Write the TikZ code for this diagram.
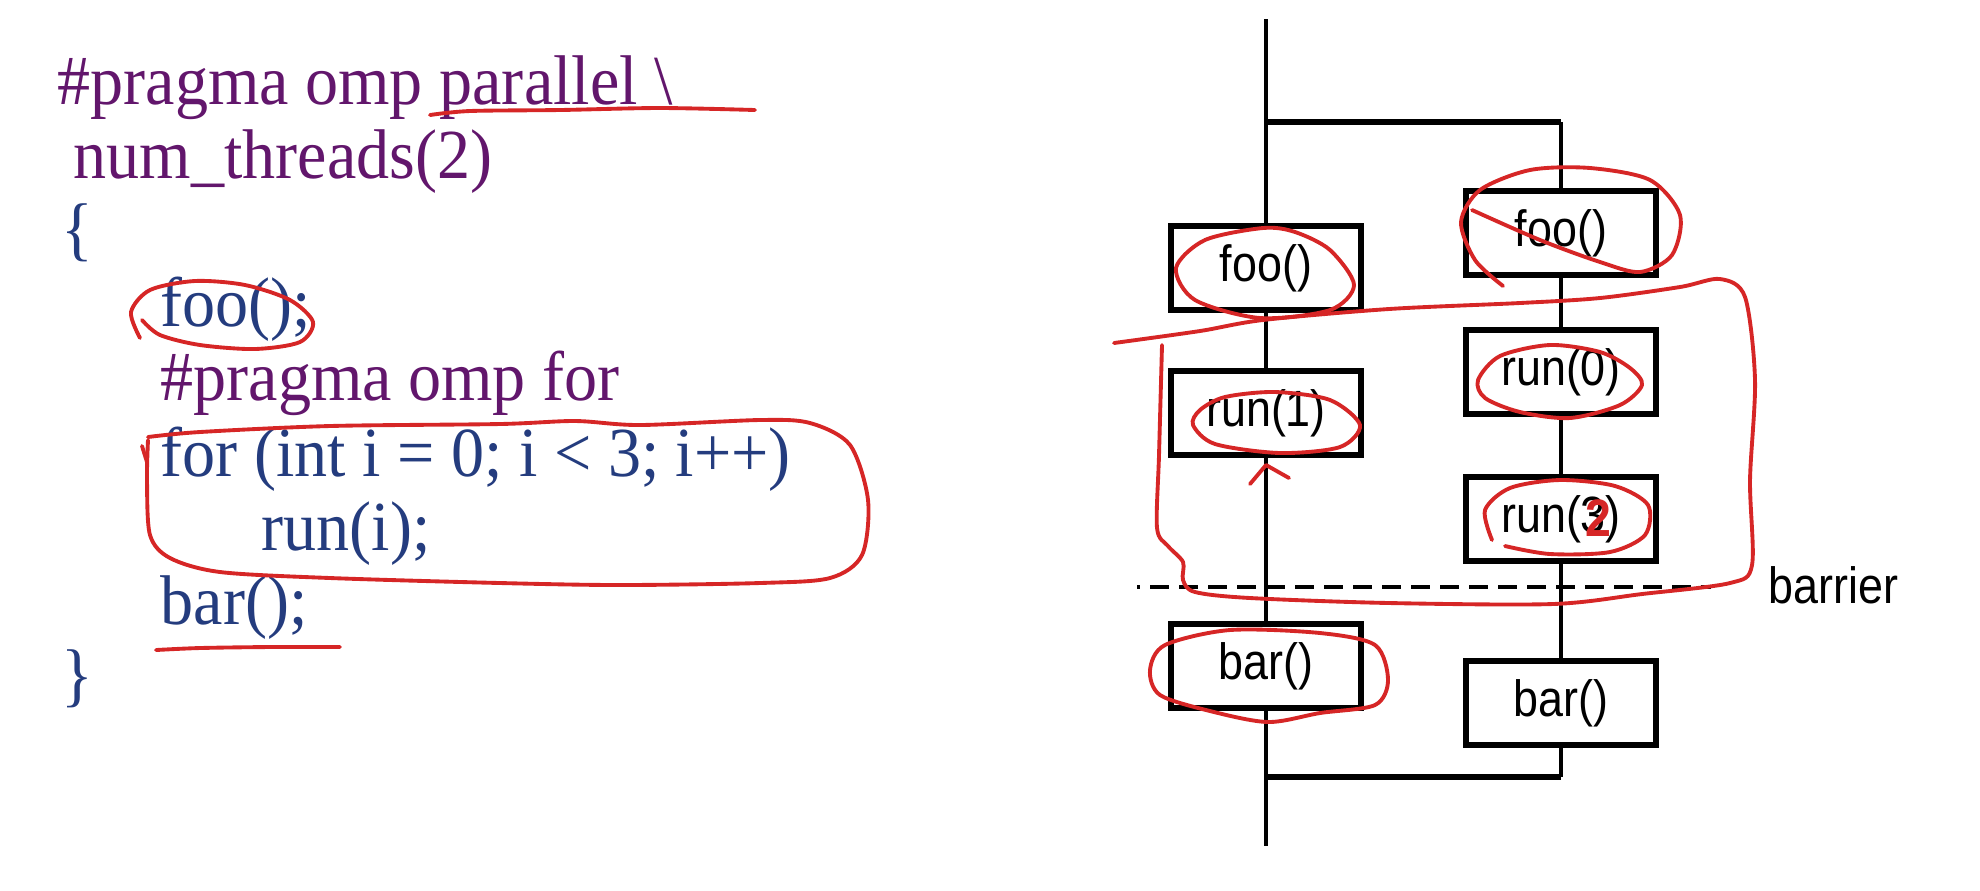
\documentclass[tikz,border=0pt]{standalone}
\usepackage{fontspec}
\setmainfont{Liberation Serif}[FakeStretch=0.94]
\newfontfamily\boxfont{Liberation Sans}[FakeStretch=0.88]
\usepackage{tikz}
\usetikzlibrary{positioning,calc}
\definecolor{CodePurple}{RGB}{98,22,108}
\definecolor{CodeBlue}{RGB}{36,60,126}
\definecolor{PenRed}{RGB}{214,38,38}
\tikzset{
    codeline/.style={anchor=base west, inner sep=0pt, font=\fontsize{20}{24}\selectfont},
    pragma/.style={codeline, text=CodePurple},
    stmt/.style={codeline, text=CodeBlue},
    taskbox/.style={draw=black, line width=1.7pt, fill=white, minimum width=1.9cm, minimum height=0.84cm, inner sep=0pt, font=\boxfont\fontsize{14.5}{17}\selectfont},
    thread/.style={draw=black, line width=1.1pt},
    forkbar/.style={draw=black, line width=1.8pt},
    pen/.style={draw=PenRed, line width=1.1pt, line cap=round, line join=round}
}

\begin{document}
\begin{tikzpicture}[x=0.01cm, y=-0.01cm,
        barrierline/.style={draw=black, line width=1.4pt, dash pattern=on 0.19cm off 0.1cm, dash phase=0.16cm}
    ]
    \useasboundingbox (0,0) rectangle (1980,890);

    % --- CODE ---
    \node[pragma] (pragmaPar) at (57,104) {\#pragma omp parallel \textbackslash};
    \node[pragma] (numThr) at (73,178) {num\_threads(2)};
    \node[stmt] (openBr) at (61,252) {\{};
    \node[stmt] (fooCall) at (160,326) {foo();};
    \node[pragma] (pragmaFor) at (160,400) {\#pragma omp for};
    \node[stmt] (forLoop) at (160,476) {for (int i = 0; i < 3; i++)};
    \node[stmt] (runCall) at (261,550) {run(i);};
    \node[stmt] (barCall) at (160,624) {bar();};
    \node[stmt] (closeBr) at (61,698) {\}};

    % --- THREADS ---
    % thread 0 (left)
    \node[taskbox] (fooL) at (1266,268) {foo()};
    \node[taskbox] (runOne) at (1266,413) {run(1)};
    \node[taskbox] (barL) at (1266,666) {bar()};
    % thread 1 (right)
    \node[taskbox] (fooR) at (1561,233) {foo()};
    \node[taskbox] (runZero) at (1561,372) {run(0)};
    \node[taskbox] (runTwo) at (1561,519) {run(3)};
    \node[taskbox] (barR) at (1561,703) {bar()};

    \coordinate (start) at (1266,19);
    \coordinate (forkL) at (1266,122);
    \coordinate (forkR) at (1561,122);
    \coordinate (joinL) at (1266,777);
    \coordinate (joinR) at (1561,777);
    \coordinate (finish) at (1266,846);

    \draw[thread] (start) -- (fooL);
    \draw[thread] (fooL) -- (runOne);
    \draw[thread] (runOne) -- (barL);
    \draw[thread] (barL) -- (finish);
    \draw[thread] (forkR) -- (fooR);
    \draw[thread] (fooR) -- (runZero);
    \draw[thread] (runZero) -- (runTwo);
    \draw[thread] (runTwo) -- (barR);
    \draw[thread] (barR) -- (joinR);
    \draw[forkbar] (forkL) -- (forkR);
    \draw[forkbar] (joinL) -- (joinR);

    % --- BARRIER ---
    \coordinate (barS) at (1137,587);
    \coordinate (barE) at (1711,587);
    \draw[barrierline] (barS) -- (barE);
    \node[anchor=west, inner sep=0pt, font=\boxfont\fontsize{14.5}{17}\selectfont] (barrierLbl) at (1768,585) {barrier};

    % --- RED PEN MARKS ---
    % code side
    \draw[pen] plot[smooth] coordinates {(430,115) (470,111) (560,110) (660,108) (755,110)};
    \draw[pen] plot[smooth] coordinates {(140,338) (131,312) (150,290) (195,281) (245,285) (290,300) (313,322) (300,342) (255,349) (200,345) (160,335) (142,320)};
    \draw[pen] (142,446) -- (147,462);
    \draw[pen] plot[smooth] coordinates {(148,437) (200,432) (330,426) (500,424) (575,421) (640,425) (760,420) (810,423) (850,445) (868,500) (862,555) (830,578) (760,583) (620,585) (500,583) (330,578) (220,572) (170,558) (150,535) (147,480) (148,440)};
    \draw[pen] plot[smooth] coordinates {(156,650) (200,648) (270,647) (340,647)};
    % diagram side
    \draw[pen] plot[smooth cycle] coordinates {(1263,228) (1205,240) (1176,268) (1195,300) (1260,318) (1330,310) (1354,285) (1330,250) (1295,232)};
    \draw[pen] plot[smooth] coordinates {(1503,286) (1475,260) (1461,222) (1480,190) (1530,170) (1590,168) (1650,180) (1680,215) (1672,255) (1640,272) (1600,262) (1540,240) (1472,210)};
    \draw[pen] plot[smooth] coordinates {(1114,343) (1200,331) (1263,320) (1389,309) (1520,303) (1600,298) (1680,287) (1720,279) (1745,297) (1755,380) (1750,480) (1752,565) (1730,583) (1642,594) (1553,604) (1389,603) (1250,598) (1195,592) (1183,580) (1183,562) (1168,546) (1157,528) (1159,455) (1162,345)};
    \draw[pen] plot[smooth cycle] coordinates {(1200,410) (1225,397) (1275,392) (1330,400) (1360,425) (1340,447) (1280,453) (1215,444) (1193,425)};
    \draw[pen] plot[smooth cycle] coordinates {(1478,380) (1500,356) (1550,345) (1600,352) (1630,368) (1642,385) (1620,405) (1570,418) (1520,412) (1485,398)};
    \draw[pen] plot[smooth] coordinates {(1492,540) (1485,510) (1510,488) (1560,480) (1615,486) (1648,505) (1645,535) (1610,552) (1550,554) (1505,546)};
    \node[text=PenRed, inner sep=0pt, font=\boxfont\bfseries\fontsize{15}{17}\selectfont] (fixTwo) at (1598,518) {2};
    \draw[pen] (1250,484) -- (1266,465) -- (1289,478);
    \draw[pen] plot[smooth cycle] coordinates {(1165,645) (1230,630) (1320,633) (1375,645) (1388,680) (1375,705) (1320,713) (1268,722) (1210,711) (1160,695) (1150,670)};
\end{tikzpicture}
\end{document}
